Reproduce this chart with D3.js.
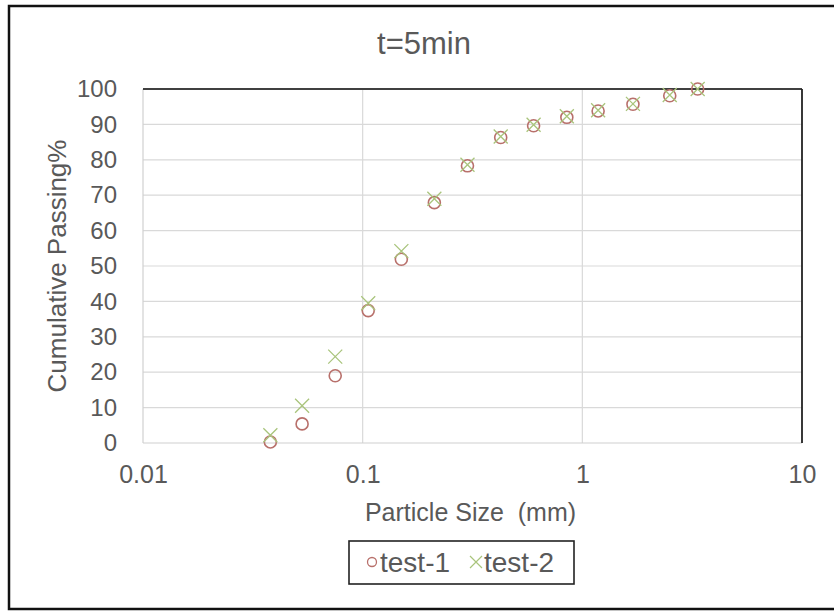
<!DOCTYPE html>
<html>
<head>
<meta charset="utf-8">
<script src="https://cdn.jsdelivr.net/npm/d3@7"></script>
<style>
  html, body { margin: 0; padding: 0; background: #fff; }
  svg { display: block; font-family: "Liberation Sans", Arial, sans-serif; }
</style>
</head>
<body>
<svg id="chart" width="834" height="611"></svg>
<script>
const title = "t=5min";
const xLabel = "Particle Size\u00a0\u00a0(mm)";
const yLabel = "Cumulative Passing%";
const sizes = [0.038, 0.053, 0.075, 0.106, 0.15, 0.212, 0.3, 0.425, 0.6, 0.85, 1.18, 1.7, 2.5, 3.35];
const test1 = [0.3, 5.4, 19.0, 37.4, 51.9, 67.9, 78.3, 86.3, 89.6, 92.0, 93.8, 95.7, 98.1, 100];
const test2 = [2.2, 10.5, 24.4, 39.5, 54.2, 69.0, 78.6, 86.6, 89.9, 92.3, 94.0, 95.8, 98.3, 100];
const xTicks = [0.01, 0.1, 1, 10];
const yTicks = [0, 10, 20, 30, 40, 50, 60, 70, 80, 90, 100];
const seriesNames = ["test-1", "test-2"];

const svg = d3.select("#chart");
const L = 143, R = 802, T = 89, B = 443;
const textColor = "#595959";
const c1 = "#b8706b", c2 = "#a9c47c";
const ff = "Liberation Sans, Arial, sans-serif";

// outer frame
svg.append("rect").attr("x", 9).attr("y", 6).attr("width", 832).attr("height", 603)
  .attr("fill", "none").attr("stroke", "#111").attr("stroke-width", 2.5);

const x = d3.scaleLog().domain([0.01, 10]).range([L, R]);
const y = d3.scaleLinear().domain([0, 100]).range([B, T]);

// grid
svg.append("g").selectAll("line").data(yTicks.filter(d => d > 0 && d < 100)).join("line")
  .attr("x1", L).attr("x2", R).attr("y1", d => y(d)).attr("y2", d => y(d))
  .attr("stroke", "#d9d9d9").attr("stroke-width", 1.2);
svg.append("g").selectAll("line").data(xTicks.filter(d => d > 0.01 && d < 10)).join("line")
  .attr("y1", T).attr("y2", B).attr("x1", d => x(d)).attr("x2", d => x(d))
  .attr("stroke", "#d9d9d9").attr("stroke-width", 1.2);
svg.append("line").attr("x1", L).attr("x2", L).attr("y1", T).attr("y2", B).attr("stroke", "#d0d0d0").attr("stroke-width", 1.2);
svg.append("line").attr("x1", L).attr("x2", R).attr("y1", B).attr("y2", B).attr("stroke", "#d0d0d0").attr("stroke-width", 1.2);
svg.append("line").attr("x1", L).attr("x2", R).attr("y1", T).attr("y2", T).attr("stroke", "#404040").attr("stroke-width", 1.8);
svg.append("line").attr("x1", R).attr("x2", R).attr("y1", T).attr("y2", B).attr("stroke", "#222").attr("stroke-width", 1.8);

// axes labels
const yAxis = svg.append("g").attr("transform", `translate(${L},0)`)
  .call(d3.axisLeft(y).tickValues(yTicks).tickSize(0).tickPadding(26).tickFormat(d3.format("d")));
yAxis.select(".domain").remove();
yAxis.selectAll("text").attr("fill", textColor).style("font-size", "24px").style("font-family", ff);

const xAxis = svg.append("g").attr("transform", `translate(0,${B})`)
  .call(d3.axisBottom(x).tickValues(xTicks).tickSize(0).tickPadding(22).tickFormat(d => String(d)));
xAxis.select(".domain").remove();
xAxis.selectAll("text").attr("fill", textColor).style("font-size", "25px").style("font-family", ff);

// titles
svg.append("text").attr("x", 424).attr("y", 54).attr("text-anchor", "middle")
  .attr("fill", textColor).style("font-size", "31px").text(title);
svg.append("text").attr("x", (L + R) / 2 - 2).attr("y", 521).attr("text-anchor", "middle")
  .attr("fill", textColor).style("font-size", "25px").text(xLabel);
svg.append("text").attr("transform", `translate(57,${(T + B) / 2}) rotate(-90)`).attr("dy", "0.35em")
  .attr("text-anchor", "middle").attr("fill", textColor).style("font-size", "26px").text(yLabel);

// markers
const crossPath = s => `M${-s},${-s}L${s},${s}M${-s},${s}L${s},${-s}`;
svg.append("g").selectAll("circle").data(sizes.map((s, i) => [s, test1[i]])).join("circle")
  .attr("cx", d => x(d[0])).attr("cy", d => y(d[1])).attr("r", 6)
  .attr("fill", "none").attr("stroke", c1).attr("stroke-width", 1.6);
svg.append("g").selectAll("path").data(sizes.map((s, i) => [s, test2[i]])).join("path")
  .attr("transform", d => `translate(${x(d[0])},${y(d[1])})`).attr("d", crossPath(7))
  .attr("fill", "none").attr("stroke", c2).attr("stroke-width", 1.3);

// legend
const lg = svg.append("g");
lg.append("rect").attr("x", 349).attr("y", 541).attr("width", 225).attr("height", 43)
  .attr("fill", "#fff").attr("stroke", "#222").attr("stroke-width", 1.6);
lg.append("circle").attr("cx", 372).attr("cy", 562).attr("r", 4.5).attr("fill", "none").attr("stroke", c1).attr("stroke-width", 1.3);
lg.append("text").attr("x", 380).attr("y", 572).attr("fill", textColor).style("font-size", "28px").text(seriesNames[0]);
lg.append("path").attr("transform", "translate(476,562)").attr("d", crossPath(6)).attr("fill", "none").attr("stroke", c2).attr("stroke-width", 1.2);
lg.append("text").attr("x", 484).attr("y", 572).attr("fill", textColor).style("font-size", "28px").text(seriesNames[1]);
</script>
</body>
</html>
